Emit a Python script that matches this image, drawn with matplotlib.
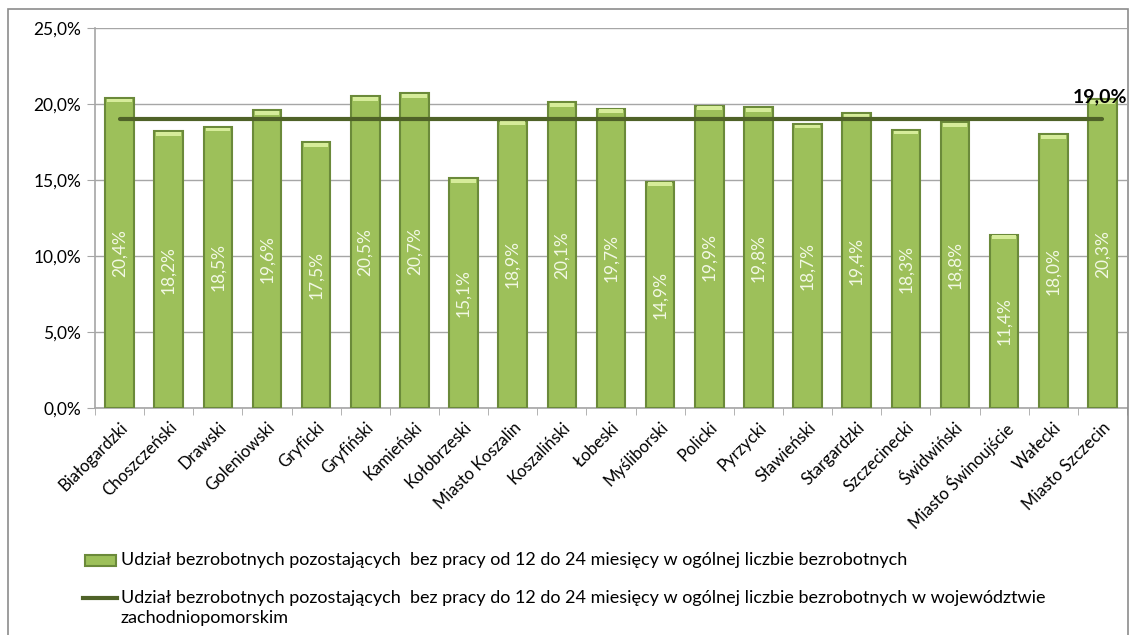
import matplotlib.pyplot as plt
import matplotlib.patches as mpatches
from matplotlib.lines import Line2D
from matplotlib.ticker import FuncFormatter, FixedLocator
import numpy as np

plt.rcParams["font.family"] = ["Lato", "DejaVu Sans"]

powiaty = ["Białogardzki", "Choszczeński", "Drawski", "Goleniowski", "Gryficki",
           "Gryfiński", "Kamieński", "Kołobrzeski", "Miasto Koszalin", "Koszaliński",
           "Łobeski", "Myśliborski", "Policki", "Pyrzycki", "Sławieński",
           "Stargardzki", "Szczecinecki", "Świdwiński", "Miasto Świnoujście",
           "Wałecki", "Miasto Szczecin"]
udzial = [20.4, 18.2, 18.5, 19.6, 17.5, 20.5, 20.7, 15.1, 18.9, 20.1, 19.7,
          14.9, 19.9, 19.8, 18.7, 19.4, 18.3, 18.8, 11.4, 18.0, 20.3]
wojewodztwo = 19.0

label_bar = "Udział bezrobotnych pozostających  bez pracy od 12 do 24 miesięcy w ogólnej liczbie bezrobotnych"
label_line = ("Udział bezrobotnych pozostających  bez pracy do 12 do 24 miesięcy w ogólnej liczbie bezrobotnych w województwie\n"
              "zachodniopomorskim")

BAR = "#9dc05a"
BAR_EDGE = "#6b8a3a"
LINE = "#4f6228"
GRID = "#a6a6a6"

W, H = 1136, 635
fig = plt.figure(figsize=(W / 100, H / 100), dpi=100)
ax = fig.add_axes([95 / W, 1 - 408 / H, 1032 / W, 380 / H])

x = np.arange(len(powiaty))
ax.bar(x, udzial, width=0.58, color=BAR, edgecolor=BAR_EDGE, linewidth=1.5, zorder=3)
# light top cap
ax.bar(x, [0.25] * len(x), bottom=np.array(udzial) - 0.3, width=0.5,
       color="#d6ec9a", linewidth=0, zorder=4)

for xi, v in zip(x, udzial):
    ax.text(xi, v / 2, f"{v:.1f}%".replace(".", ","), rotation=90, ha="center",
            va="center", color="#f2f8e4", fontsize=12.5, zorder=5)

ax.plot([x[0], x[-1]], [wojewodztwo, wojewodztwo], color=LINE, linewidth=3,
        solid_capstyle="round", zorder=6)
ax.text(x[-1] - 0.05, wojewodztwo + 0.95, f"{wojewodztwo:.1f}%".replace(".", ","),
        ha="center", va="bottom", fontsize=14, fontweight="bold", color="black", zorder=7)

ax.set_xlim(-0.5, len(powiaty) - 0.5)
ax.set_ylim(0, 25)
ax.set_yticks([0, 5, 10, 15, 20, 25])
ax.yaxis.set_major_formatter(FuncFormatter(lambda v, p: f"{v:.1f}%".replace(".", ",")))
ax.grid(axis="y", color=GRID, linewidth=1, zorder=0)
ax.set_xticks(x)
ax.set_xticklabels(powiaty, rotation=45, ha="right", rotation_mode="anchor", fontsize=12)
ax.tick_params(axis="x", length=0, pad=8)
ax.xaxis.set_minor_locator(FixedLocator(np.arange(-0.5, len(powiaty), 1)))
ax.tick_params(axis="x", which="minor", length=5, color=GRID)
ax.tick_params(axis="y", length=6, color=GRID, labelsize=12.5, pad=4)
for s in ["top", "right"]:
    ax.spines[s].set_visible(False)
for s in ["left", "bottom"]:
    ax.spines[s].set_color(GRID)
    ax.spines[s].set_linewidth(1.2)

# legend drawn by hand so the line marker sits next to the first text line
fig.patches.append(mpatches.Rectangle((85 / W, 1 - 566 / H), 31 / W, 11 / H,
                                      transform=fig.transFigure, facecolor=BAR,
                                      edgecolor=BAR_EDGE, linewidth=1.5))
fig.lines.append(Line2D([83 / W, 117 / W], [1 - 598 / H, 1 - 598 / H],
                        transform=fig.transFigure, color=LINE, linewidth=3))
fig.text(121 / W, 1 - 560 / H, label_bar, ha="left", va="center", fontsize=13)
fig.text(121 / W, 1 - 590 / H, label_line, ha="left", va="top", fontsize=13,
         linespacing=1.3)

# outer chart frame
fig.patches.append(mpatches.Rectangle((8 / W, -0.05), 1120 / W, 1.05 - 9 / H,
                                      transform=fig.transFigure, fill=False,
                                      edgecolor="#8c8c8c", linewidth=1.2))

fig.savefig("out.png", dpi=100)
